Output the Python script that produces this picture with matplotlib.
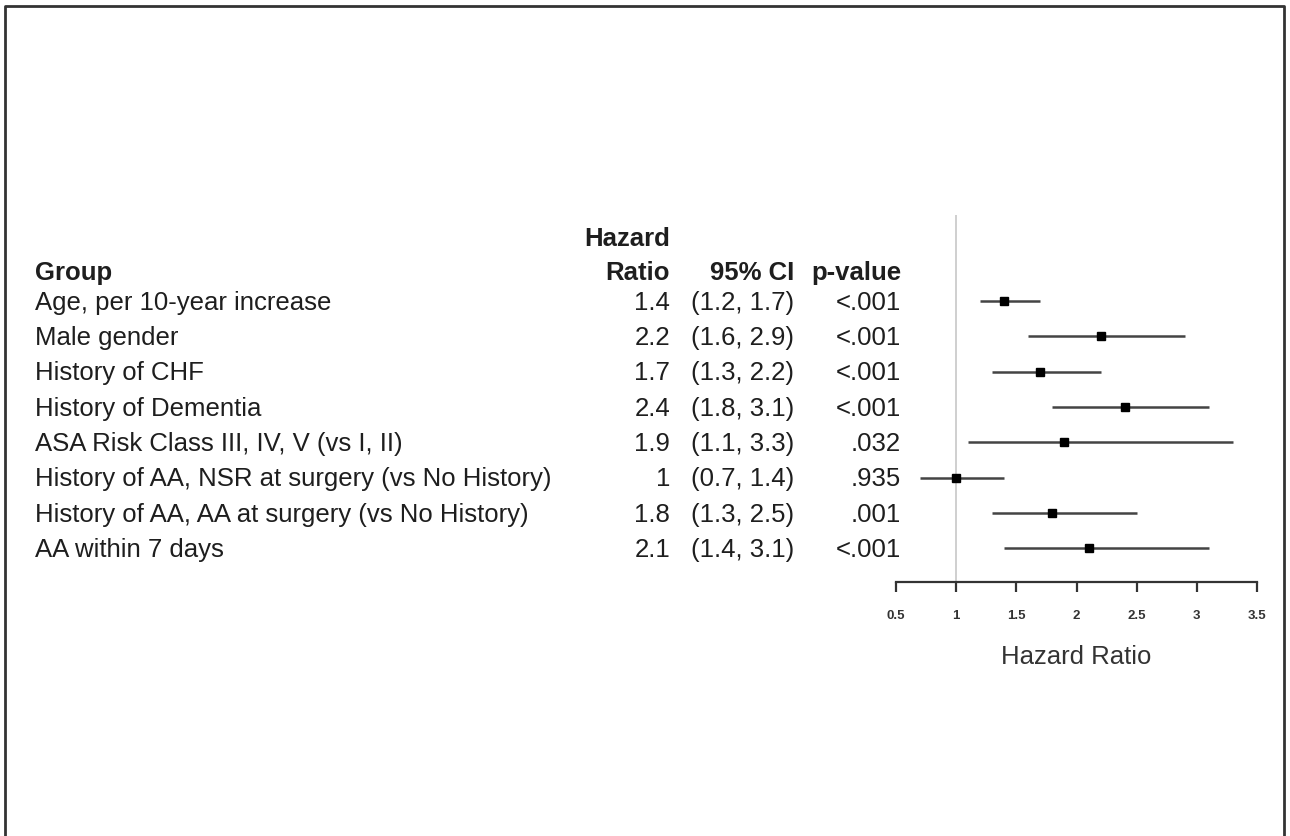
import matplotlib.pyplot as plt
import matplotlib.transforms as mtransforms
from matplotlib.lines import Line2D

groups = ["Age, per 10-year increase", "Male gender", "History of CHF",
          "History of Dementia", "ASA Risk Class III, IV, V (vs I, II)",
          "History of AA, NSR at surgery (vs No History)",
          "History of AA, AA at surgery (vs No History)", "AA within 7 days"]
hr = [1.4, 2.2, 1.7, 2.4, 1.9, 1.0, 1.8, 2.1]
lo = [1.2, 1.6, 1.3, 1.8, 1.1, 0.7, 1.3, 1.4]
hi = [1.7, 2.9, 2.2, 3.1, 3.3, 1.4, 2.5, 3.1]
hr_txt = ["1.4", "2.2", "1.7", "2.4", "1.9", "1", "1.8", "2.1"]
pvals = ["<.001", "<.001", "<.001", "<.001", ".032", ".935", ".001", "<.001"]
xticks = [0.5, 1, 1.5, 2, 2.5, 3, 3.5]
xtick_labels = ["0.5", "1", "1.5", "2", "2.5", "3", "3.5"]

plt.rcParams['font.family'] = ['Liberation Sans', 'DejaVu Sans']
txt_color = '#1e1e1e'
fs = 18.5

W, H = 1290, 836
fig = plt.figure(figsize=(W / 100, H / 100), dpi=100)
ax = fig.add_axes([896 / W, 1 - 582 / H, 361 / W, 367 / H])

rows = list(range(len(groups)))
ax.axvline(1, color='#cccccc', lw=1.3, zorder=0)
ax.hlines(rows, lo, hi, color='#444444', lw=1.8)
ax.plot(hr, rows, 's', color='black', ms=6)

ax.set_xlim(0.5, 3.5)
ax.set_ylim(7.96, -2.44)
for s in ['top', 'right', 'left']:
    ax.spines[s].set_visible(False)
ax.spines['bottom'].set_color('#333333')
ax.spines['bottom'].set_linewidth(1.6)
ax.set_yticks([])
ax.set_xticks(xticks)
ax.set_xticklabels(xtick_labels, fontsize=9.5, fontweight='bold', color='#333333')
ax.tick_params(axis='x', length=7, width=1.6, color='#333333', pad=13)
ax.set_xlabel("Hazard Ratio", fontsize=fs, color='#333333', labelpad=17)

# text columns: x in figure fraction, y in data rows
tr = mtransforms.blended_transform_factory(fig.transFigure, ax.transData)
x_group = 35 / W
x_hr = 670 / W
x_ci = 794 / W
x_p = 901 / W
dy = 0.05

hdr_y = -0.85
ax.text(x_group, hdr_y + dy, "Group", transform=tr, ha='left', va='center',
        fontsize=fs, fontweight='bold', color=txt_color)
ax.text(x_hr, hdr_y - 0.96 + dy, "Hazard", transform=tr, ha='right', va='center',
        fontsize=fs, fontweight='bold', color=txt_color)
ax.text(x_hr, hdr_y + dy, "Ratio", transform=tr, ha='right', va='center',
        fontsize=fs, fontweight='bold', color=txt_color)
ax.text(x_ci, hdr_y + dy, "95% CI", transform=tr, ha='right', va='center',
        fontsize=fs, fontweight='bold', color=txt_color)
ax.text(x_p, hdr_y + dy, "p-value", transform=tr, ha='right', va='center',
        fontsize=fs, fontweight='bold', color=txt_color)

for i in rows:
    ax.text(x_group, i + dy, groups[i], transform=tr, ha='left', va='center',
            fontsize=fs, color=txt_color)
    ax.text(x_hr, i + dy, hr_txt[i], transform=tr, ha='right', va='center',
            fontsize=fs, color=txt_color)
    ax.text(x_ci, i + dy, "(%s, %s)" % (lo[i], hi[i]), transform=tr, ha='right',
            va='center', fontsize=fs, color=txt_color)
    ax.text(x_p, i + dy, pvals[i], transform=tr, ha='right', va='center',
            fontsize=fs, color=txt_color)

# frame around the image (bottom edge is cut off)
fx0, fx1, fy1 = 5 / W, 1284 / W, 1 - 6 / H
fig.add_artist(Line2D([fx0, fx0, fx1, fx1], [0, fy1, fy1, 0],
                      color='#333333', lw=2, transform=fig.transFigure))

fig.savefig("out.png", dpi=100)
